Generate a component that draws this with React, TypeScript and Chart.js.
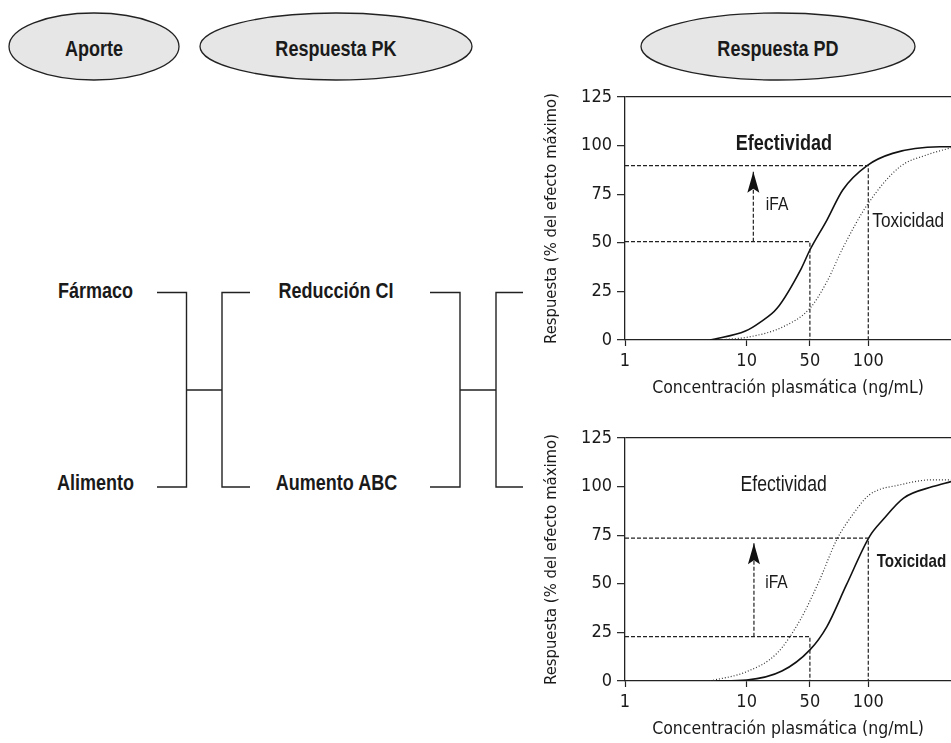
import React, { useEffect, useRef } from 'react';
import { Chart, registerables } from 'chart.js';

Chart.register(...registerables);

// ---- axes ----
const yMin = 0;
const yMax = 125;
const yStep = 25;
const xTickLabels = ['1', '10', '50', '100'];
// position of each tick on the (log-like) concentration axis, in decades from 1
const xTickPositions = [0, 1, 1.52, 2];
const xAxisMin = 0;
const xAxisMax = 2.68;
const xTitle = 'Concentración plasmática (ng/mL)';
const yTitle = 'Respuesta (% del efecto máximo)';

// ---- top chart: efectividad (solid) and toxicidad (dotted) ----
const topEffX = [0.7, 0.99, 1.11, 1.25, 1.45, 1.52, 1.66, 1.79, 1.99, 2.2, 2.59, 2.68];
const topEffY = [0, 4.6, 9.1, 16.3, 36.9, 46.3, 61.7, 77.2, 89.7, 96, 99.4, 99.4];
const topToxX = [0.78, 1.03, 1.3, 1.52, 1.66, 1.79, 1.99, 2.26, 2.48, 2.68];
const topToxY = [0, 1.7, 6.8, 16.3, 30, 47.2, 69.4, 89.1, 95.2, 98.9];
const topGuideHighX = [0, 2, 2];
const topGuideHighY = [89.7, 89.7, 0];
const topGuideLowX = [0, 1.52, 1.52];
const topGuideLowY = [50.6, 50.6, 0];
const topArrowX = [1.055, 1.055];
const topArrowY = [50.6, 86.6];
const topLabels = ['Efectividad', 'iFA', 'Toxicidad'];
const topLabelX = [1.306, 1.25, 2.328];
const topLabelY = [100.6, 69.5, 61.3];

// ---- bottom chart: efectividad (dotted) and toxicidad (solid) ----
const botEffX = [0.7, 1.0, 1.25, 1.44, 1.6, 1.74, 1.88, 2.01, 2.26, 2.53, 2.68];
const botEffY = [0, 4.8, 14.3, 31.4, 52, 72.6, 86.3, 95.8, 100.9, 103.5, 103.5];
const botToxX = [0.75, 1.0, 1.29, 1.52, 1.66, 1.82, 2.01, 2.12, 2.29, 2.53, 2.68];
const botToxY = [0, 0.5, 5.1, 16, 28, 49.4, 74.3, 82.9, 94.1, 100, 102.6];
const botGuideHighX = [0, 2, 2];
const botGuideHighY = [73.5, 73.5, 0];
const botGuideLowX = [0, 1.52, 1.52];
const botGuideLowY = [22.8, 22.8, 0];
const botArrowX = [1.06, 1.06];
const botArrowY = [22.8, 70.9];
const botLabels = ['Efectividad', 'iFA', 'Toxicidad'];
const botLabelX = [1.304, 1.245, 2.355];
const botLabelY = [100.7, 50.3, 61.4];

// ---- diagram text ----
const headers = ['Aporte', 'Respuesta PK', 'Respuesta PD'];
const leftLabels = ['Fármaco', 'Alimento'];
const midLabels = ['Reducción CI', 'Aumento ABC'];

const NARROW = '"Liberation Sans", Arial, sans-serif';
const NARROW_SCALE = 0.82;
const COND = '"DejaVu Sans Condensed", "DejaVu Sans", sans-serif';
const INK = '#1a1a1a';

const pts = (xs: number[], ys: number[]) => xs.map((x, i) => ({ x, y: ys[i] }));

type Cfg = {
  solidX: number[]; solidY: number[];
  dotX: number[]; dotY: number[];
  gHX: number[]; gHY: number[];
  gLX: number[]; gLY: number[];
  aX: number[]; aY: number[];
  labels: string[]; lx: number[]; ly: number[];
  bold: boolean[]; sizes: number[];
};

const annotPlugin = {
  id: 'annot',
  afterDatasetsDraw(chart: any, _args: any, opts: any) {
    const { ctx, scales } = chart;
    const xs = scales.x;
    const ys = scales.y;
    const cfg: Cfg = opts.cfg;
    ctx.save();
    // arrowhead at the end of the iFA arrow
    const tx = xs.getPixelForValue(cfg.aX[1]);
    const ty = ys.getPixelForValue(cfg.aY[1]);
    ctx.fillStyle = '#111';
    ctx.beginPath();
    ctx.moveTo(tx, ty);
    ctx.lineTo(tx - 6, ty + 21);
    ctx.lineTo(tx, ty + 17);
    ctx.lineTo(tx + 6, ty + 21);
    ctx.closePath();
    ctx.fill();
    // text labels (horizontally condensed)
    ctx.fillStyle = INK;
    ctx.textAlign = 'center';
    ctx.textBaseline = 'middle';
    cfg.labels.forEach((t, i) => {
      ctx.save();
      ctx.font = `${cfg.bold[i] ? 'bold ' : ''}${cfg.sizes[i]}px ${NARROW}`;
      ctx.translate(xs.getPixelForValue(cfg.lx[i]), ys.getPixelForValue(cfg.ly[i]));
      ctx.scale(NARROW_SCALE, 1);
      ctx.fillText(t, 0, 0);
      ctx.restore();
    });
    ctx.restore();
  },
};

function PDChart({ cfg }: { cfg: Cfg }) {
  const ref = useRef<HTMLCanvasElement>(null);
  useEffect(() => {
    const guide = { borderColor: '#222', borderWidth: 1.2, borderDash: [4, 2], pointRadius: 0, fill: false };
    const curve = { pointRadius: 0, fill: false, cubicInterpolationMode: 'monotone' };
    const chart = new Chart(ref.current as HTMLCanvasElement, {
      type: 'line',
      data: {
        datasets: [
          { data: pts(cfg.gHX, cfg.gHY), ...guide },
          { data: pts(cfg.gLX, cfg.gLY), ...guide },
          { data: pts(cfg.aX, cfg.aY), ...guide },
          { data: pts(cfg.dotX, cfg.dotY), borderColor: '#333', borderWidth: 1.2, borderDash: [1, 2], ...curve },
          { data: pts(cfg.solidX, cfg.solidY), borderColor: '#111', borderWidth: 1.6, ...curve },
        ] as any,
      },
      options: {
        animation: false,
        responsive: false,
        events: [],
        layout: { padding: { top: 17, left: 0, right: 0, bottom: 0 } },
        plugins: { legend: { display: false }, tooltip: { enabled: false }, annot: { cfg } } as any,
        scales: {
          x: {
            type: 'linear',
            min: xAxisMin,
            max: xAxisMax,
            afterFit: (s: any) => { s.height = 60; },
            afterBuildTicks: (s: any) => { s.ticks = xTickPositions.map((v) => ({ value: v })); },
            ticks: {
              autoSkip: false,
              maxRotation: 0,
              padding: 5,
              color: INK,
              font: { family: COND, size: 18 },
              callback: (_v: any, i: number) => xTickLabels[i],
            },
            grid: { display: true, drawOnChartArea: false, drawTicks: true, tickLength: 6, tickColor: '#222', tickWidth: 1.2 },
            border: { display: true, color: '#222', width: 1.3 },
            title: { display: true, text: xTitle, color: INK, font: { family: COND, size: 17.5 }, padding: { top: 0, bottom: 1 } },
          },
          y: {
            type: 'linear',
            min: yMin,
            max: yMax,
            afterFit: (s: any) => { s.width = 105; },
            ticks: { stepSize: yStep, padding: 5, color: INK, font: { family: COND, size: 18 } },
            grid: {
              display: true,
              drawTicks: true,
              tickLength: 8,
              tickColor: '#222',
              tickWidth: 1.2,
              lineWidth: 1.3,
              color: (c: any) => (c.tick && c.tick.value === yMax ? '#222' : 'rgba(0,0,0,0)'),
            },
            border: { display: true, color: '#222', width: 1.3 },
            title: { display: true, text: yTitle, color: INK, font: { family: COND, size: 16.5 }, padding: { top: 22, bottom: 0 } },
          },
        },
      } as any,
      plugins: [annotPlugin],
    });
    return () => chart.destroy();
  }, [cfg]);
  return <canvas ref={ref} width={431} height={320} style={{ display: 'block' }} />;
}

const topCfg: Cfg = {
  solidX: topEffX, solidY: topEffY, dotX: topToxX, dotY: topToxY,
  gHX: topGuideHighX, gHY: topGuideHighY, gLX: topGuideLowX, gLY: topGuideLowY,
  aX: topArrowX, aY: topArrowY,
  labels: topLabels, lx: topLabelX, ly: topLabelY,
  bold: [true, false, false], sizes: [22, 19, 21],
};
const botCfg: Cfg = {
  solidX: botToxX, solidY: botToxY, dotX: botEffX, dotY: botEffY,
  gHX: botGuideHighX, gHY: botGuideHighY, gLX: botGuideLowX, gLY: botGuideLowY,
  aX: botArrowX, aY: botArrowY,
  labels: botLabels, lx: botLabelX, ly: botLabelY,
  bold: [false, false, true], sizes: [21.5, 19, 18.5],
};

function Label({ x, y, text }: { x: number; y: number; text: string }) {
  return (
    <text
      transform={`translate(${x},${y}) scale(${NARROW_SCALE},1)`}
      x={0}
      y={0}
      fontFamily={NARROW}
      fontWeight={700}
      fontSize={22}
      fill={INK}
      textAnchor="middle"
    >
      {text}
    </text>
  );
}

function Diagram() {
  const stroke = { stroke: '#222', strokeWidth: 1.4, fill: 'none' };
  const ells = [
    { cx: 94, rx: 85 },
    { cx: 336, rx: 136 },
    { cx: 778, rx: 137 },
  ];
  return (
    <svg width={951} height={743} style={{ position: 'absolute', left: 0, top: 0 }}>
      {ells.map((e, i) => (
        <g key={i}>
          <ellipse cx={e.cx} cy={46.5} rx={e.rx} ry={33.5} fill="#e6e6e6" stroke="#222" strokeWidth={1.3} />
          <Label x={e.cx} y={55.5} text={headers[i]} />
        </g>
      ))}
      <Label x={95.5} y={298} text={leftLabels[0]} />
      <Label x={95.5} y={490} text={leftLabels[1]} />
      <Label x={336} y={298} text={midLabels[0]} />
      <Label x={336.5} y={490} text={midLabels[1]} />
      <path d="M157,292.5 H186.5 V487 H157 M186.5,390 H222 M250,292.5 H222 V487 H250" {...stroke} />
      <path d="M430,292.5 H460 V487 H430 M460,390 H496 M523,292.5 H496 V487 H523" {...stroke} />
    </svg>
  );
}

export default function App() {
  return (
    <div style={{ position: 'absolute', left: 0, top: 0, width: 951, height: 743, background: '#fff', overflow: 'hidden' }}>
      <Diagram />
      <div style={{ position: 'absolute', left: 520, top: 80, width: 431, height: 320 }}>
        <PDChart cfg={topCfg} />
      </div>
      <div style={{ position: 'absolute', left: 520, top: 421, width: 431, height: 320 }}>
        <PDChart cfg={botCfg} />
      </div>
    </div>
  );
}
